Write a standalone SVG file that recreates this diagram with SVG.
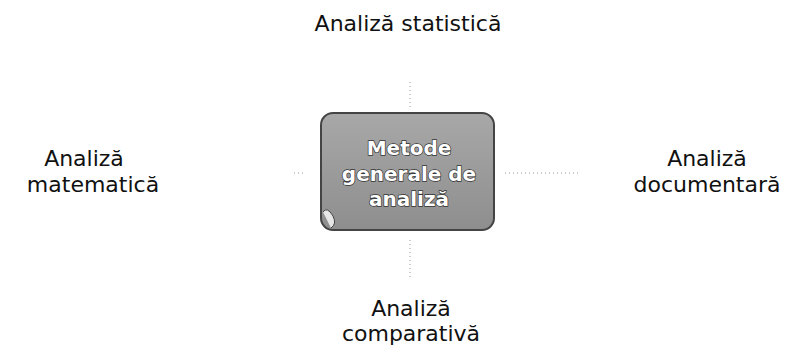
<svg xmlns="http://www.w3.org/2000/svg" width="786" height="348" viewBox="0 0 786 348">
<style>
.lbl{font-family:"DejaVu Sans","Noto Sans",sans-serif;font-size:22px;fill:#111;text-anchor:middle}
.ctr{font-family:"DejaVu Sans","Noto Sans",sans-serif;font-size:20px;font-weight:bold;fill:#fff;stroke:#333;stroke-width:1.4px;paint-order:stroke;text-anchor:middle}
.con{stroke:#999;stroke-width:1;stroke-dasharray:1 3;fill:none}
</style>
<defs>
<linearGradient id="g" x1="0" y1="0" x2="0" y2="1">
<stop offset="0" stop-color="#a8a8a8"/>
<stop offset="1" stop-color="#8e8e8e"/>
</linearGradient>
</defs>
<g id="connectors">
<line class="con" x1="410" y1="82" x2="410" y2="110"/>
<line class="con" x1="505" y1="173" x2="580" y2="173"/>
<line class="con" x1="294" y1="173" x2="306" y2="173"/>
<line class="con" x1="410" y1="240" x2="410" y2="278"/>
</g>
<g id="center">
<rect x="321" y="113" width="173" height="117" rx="12" fill="url(#g)" stroke="#444" stroke-width="2"/>
<path d="M323,212 q4,-6 10,4 q4,8 -2,12" fill="#e6e6e6" stroke="#444" stroke-width="1"/>
<text class="ctr" x="409" y="155">Metode</text>
<text class="ctr" x="409" y="181">generale de</text>
<text class="ctr" x="409" y="206">analiză</text>
</g>
<g id="top"><text class="lbl" x="408" y="31">Analiză statistică</text></g>
<g id="left"><text class="lbl" x="84" y="166">Analiză</text><text class="lbl" x="93" y="192">matematică</text></g>
<g id="right"><text class="lbl" x="707" y="166">Analiză</text><text class="lbl" x="707" y="192">documentară</text></g>
<g id="bottom"><text class="lbl" x="411" y="316">Analiză</text><text class="lbl" x="411" y="341">comparativă</text></g>
</svg>
